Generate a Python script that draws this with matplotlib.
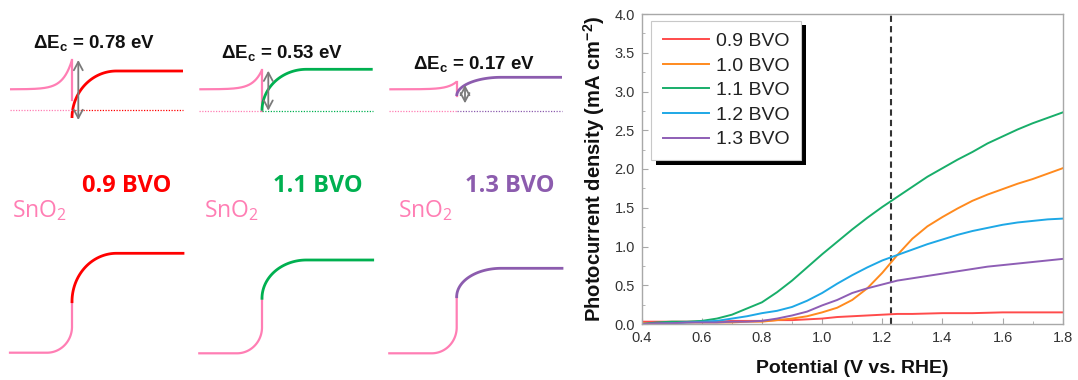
import matplotlib
matplotlib.use('Agg')
import matplotlib.pyplot as plt
import numpy as np
from matplotlib.patches import Rectangle
from matplotlib.ticker import MultipleLocator, FormatStrFormatter
from matplotlib.transforms import IdentityTransform

# ---------------- data (photocurrent vs potential) ----------------
potential = [0.40, 0.45, 0.50, 0.55, 0.60, 0.65, 0.70, 0.75, 0.80, 0.85,
             0.90, 0.95, 1.00, 1.05, 1.10, 1.15, 1.20, 1.25, 1.30, 1.35,
             1.40, 1.45, 1.50, 1.55, 1.60, 1.65, 1.70, 1.75, 1.80]
j_09 = [0.03, 0.03, 0.03, 0.03, 0.03, 0.03, 0.04, 0.04, 0.04, 0.05,
        0.05, 0.06, 0.07, 0.09, 0.10, 0.11, 0.12, 0.13, 0.13, 0.135,
        0.14, 0.14, 0.14, 0.145, 0.15, 0.15, 0.15, 0.15, 0.15]
j_10 = [0.01, 0.01, 0.02, 0.02, 0.02, 0.02, 0.02, 0.03, 0.03, 0.05,
        0.07, 0.10, 0.15, 0.21, 0.31, 0.46, 0.66, 0.89, 1.10, 1.26,
        1.38, 1.49, 1.59, 1.67, 1.74, 1.81, 1.87, 1.94, 2.01]
j_11 = [0.00, 0.02, 0.03, 0.03, 0.04, 0.07, 0.12, 0.20, 0.28, 0.41,
        0.56, 0.73, 0.90, 1.06, 1.22, 1.37, 1.51, 1.64, 1.77, 1.90,
        2.01, 2.12, 2.22, 2.33, 2.42, 2.51, 2.59, 2.66, 2.73]
j_12 = [-0.02, 0.00, 0.01, 0.02, 0.03, 0.04, 0.07, 0.10, 0.14, 0.17,
        0.22, 0.30, 0.40, 0.52, 0.63, 0.73, 0.82, 0.89, 0.96, 1.03,
        1.09, 1.15, 1.20, 1.24, 1.28, 1.31, 1.33, 1.35, 1.36]
j_13 = [0.00, 0.01, 0.01, 0.02, 0.02, 0.02, 0.03, 0.03, 0.04, 0.07,
        0.11, 0.16, 0.24, 0.31, 0.40, 0.46, 0.51, 0.56, 0.59, 0.62,
        0.65, 0.68, 0.71, 0.74, 0.76, 0.78, 0.80, 0.82, 0.84]
series_labels = ['0.9 BVO', '1.0 BVO', '1.1 BVO', '1.2 BVO', '1.3 BVO']
series_colors = ['#FF4B4B', '#FF8A1E', '#18AE6A', '#1EA8E6', '#8E5EB5']
vline_potential = 1.23
x_ticks = [0.4, 0.6, 0.8, 1.0, 1.2, 1.4, 1.6, 1.8]
y_ticks = [0.0, 0.5, 1.0, 1.5, 2.0, 2.5, 3.0, 3.5, 4.0]

# ---------------- schematic content ----------------
schem_labels = ['0.9 BVO', '1.1 BVO', '1.3 BVO']
schem_dEc = [0.78, 0.53, 0.17]
schem_colors = ['#FF0000', '#00B050', '#8C5CAE']
pink = '#FF7EB4'

# schematic geometry (pixel units of the left drawing area)
x_start = [10.0, 199.3, 389.3]
x_junc = [72.0, 262.0, 456.7]
x_end = [183.0, 372.7, 562.0]
top_pink_flat = [89.3, 89.3, 89.3]
top_pink_peak = [60.0, 70.0, 81.7]
top_pink_drop = [100.0, 110.7, 96.0]
top_bvo_bottom = [118.0, 110.7, 96.0]
top_bvo_flat = [71.0, 69.3, 77.3]
fermi_y = [110.3, 110.7, 110.7]
arrow_x = [78.3, 268.3, 465.0]
arrow_y = [(60.0, 120.0), (70.7, 110.7), (85.0, 103.3)]
bot_low = [352.7, 353.3, 353.3]
bot_join = [301.7, 298.3, 296.7]
bot_top = [253.3, 260.0, 268.3]
dE_text_pos = [(33.3, 48.7), (220.7, 58.3), (412.7, 70.0)]
bvo_text_pos = [(81.7, 191.7), (273.0, 191.7), (465.0, 191.7)]
sno_text_pos = [(11.7, 216.7), (204.2, 216.7), (398.3, 216.7)]

W, H = 1078, 380
fig = plt.figure(figsize=(W / 100, H / 100), dpi=100)

# ================= left schematic =================
axs = fig.add_axes([0, 0, 580 / W, 1])
axs.set_xlim(0, 580)
axs.set_ylim(H, 0)
axs.axis('off')

for i in range(3):
    col = schem_colors[i]
    x0, xj, xe = x_start[i], x_junc[i], x_end[i]
    # --- top: conduction band alignment ---
    xs = np.linspace(x0, xj, 200)
    ys = top_pink_flat[i] - (top_pink_flat[i] - top_pink_peak[i]) * np.exp(-(xj - xs) / 9.0)
    axs.plot(xs, ys, color=pink, lw=1.6, solid_capstyle='butt')
    axs.plot([xj, xj], [top_pink_peak[i], top_pink_drop[i]], color=pink, lw=1.6)
    a = 44.5
    t = np.linspace(0, np.pi / 2, 100)
    bx = xj + a * (1 - np.cos(t))
    by = top_bvo_bottom[i] - (top_bvo_bottom[i] - top_bvo_flat[i]) * np.sin(t)
    bx = np.concatenate([bx, [xe]])
    by = np.concatenate([by, [top_bvo_flat[i]]])
    axs.plot(bx, by, color=col, lw=2.0, solid_capstyle='butt')
    # Fermi level (dotted)
    axs.plot([x0, xj], [fermi_y[i]] * 2, color=pink, lw=0.9, ls=(0, (1, 1.2)))
    axs.plot([xj, xe], [fermi_y[i]] * 2, color=col, lw=0.9, ls=(0, (1, 1.2)))
    # double arrow
    axs.annotate('', xy=(arrow_x[i], arrow_y[i][0]), xytext=(arrow_x[i], arrow_y[i][1]),
                 arrowprops=dict(arrowstyle='<->,head_length=0.6,head_width=0.32',
                                 color='#7A7A7A', lw=1.3, shrinkA=0, shrinkB=0))
    axs.text(dE_text_pos[i][0], dE_text_pos[i][1],
             r'ΔE$_\mathregular{c}$ = %.2f eV' % schem_dEc[i],
             fontsize=13.5, fontweight='bold', family='Liberation Sans',
             ha='left', va='baseline', color='#111111')
    # labels
    axs.text(bvo_text_pos[i][0], bvo_text_pos[i][1], schem_labels[i],
             fontsize=17, fontweight='bold', family='Open Sans', color=col,
             ha='left', va='baseline')
    axs.text(sno_text_pos[i][0], sno_text_pos[i][1], r'SnO$_\mathregular{2}$',
             fontsize=16.5, family='Open Sans', color=pink, ha='left', va='baseline')
    # --- bottom: band bending after contact ---
    ap, bp = 25.0, 26.0
    px = np.concatenate([[x0], xj - ap + ap * np.sin(t), [xj]])
    py = np.concatenate([[bot_low[i]], bot_low[i] - bp + bp * np.cos(t), [bot_join[i]]])
    axs.plot(px, py, color=pink, lw=1.6)
    qx = np.concatenate([xj + a - a * np.cos(t), [xe]])
    qy = np.concatenate([bot_join[i] - (bot_join[i] - bot_top[i]) * np.sin(t), [bot_top[i]]])
    axs.plot(qx, qy, color=col, lw=2.0)

# ================= right plot =================
left, right, top, bottom = 641.7, 1062.7, 14.0, 324.0
ax = fig.add_axes([left / W, (H - bottom) / H, (right - left) / W, (bottom - top) / H])
series = [j_09, j_10, j_11, j_12, j_13]
for ys, lab, c in zip(series, series_labels, series_colors):
    ax.plot(potential, ys, color=c, lw=1.4, label=lab)
ax.axvline(vline_potential, color='#333333', lw=1.5, ls=(0, (3, 2)), zorder=1)

ax.set_xlim(0.4, 1.8)
ax.set_ylim(0.0, 4.0)
ax.set_xticks(x_ticks)
ax.set_yticks(y_ticks)
ax.xaxis.set_minor_locator(MultipleLocator(0.1))
ax.yaxis.set_minor_locator(MultipleLocator(0.25))
ax.xaxis.set_major_formatter(FormatStrFormatter('%.1f'))
ax.yaxis.set_major_formatter(FormatStrFormatter('%.1f'))
for sp in ax.spines.values():
    sp.set_color('#A8A8A8')
    sp.set_linewidth(1.0)
ax.tick_params(which='both', direction='in', color='#A8A8A8', top=False, right=False)
ax.tick_params(which='major', length=4, width=0.8, labelsize=10.5, labelcolor='#333333', pad=5)
ax.tick_params(which='minor', length=2.5, width=0.6)
for lbl in ax.get_xticklabels() + ax.get_yticklabels():
    lbl.set_family('Liberation Sans')

ax.set_xlabel('Potential (V vs. RHE)', fontsize=14, fontweight='bold',
              family='Liberation Sans', labelpad=11, color='#111111')
ax.set_ylabel(r'Photocurrent density (mA cm$^\mathregular{-2}$)', fontsize=14.5,
              fontweight='bold', family='Liberation Sans', labelpad=5, color='#111111')

leg = ax.legend(loc='upper left', bbox_to_anchor=(651 / W, (H - 20.7) / H),
                bbox_transform=fig.transFigure, borderaxespad=0, frameon=True,
                fancybox=False, framealpha=1, edgecolor='#C8C8C8',
                prop={'family': 'Liberation Sans', 'size': 14},
                handlelength=2.4, handletextpad=0.35, labelspacing=0.36,
                borderpad=0.6)
leg.get_frame().set_linewidth(0.8)
for txt in leg.get_texts():
    txt.set_color('#222222')

fig.canvas.draw()
bb = leg.get_frame().get_window_extent(fig.canvas.get_renderer())
shadow = Rectangle((bb.x0 + 5, bb.y0 - 4.5), bb.width, bb.height,
                   transform=IdentityTransform(), facecolor='black',
                   edgecolor='none', zorder=leg.get_zorder() - 0.1, clip_on=False)
ax.add_artist(shadow)

fig.savefig('out.png', dpi=100)
